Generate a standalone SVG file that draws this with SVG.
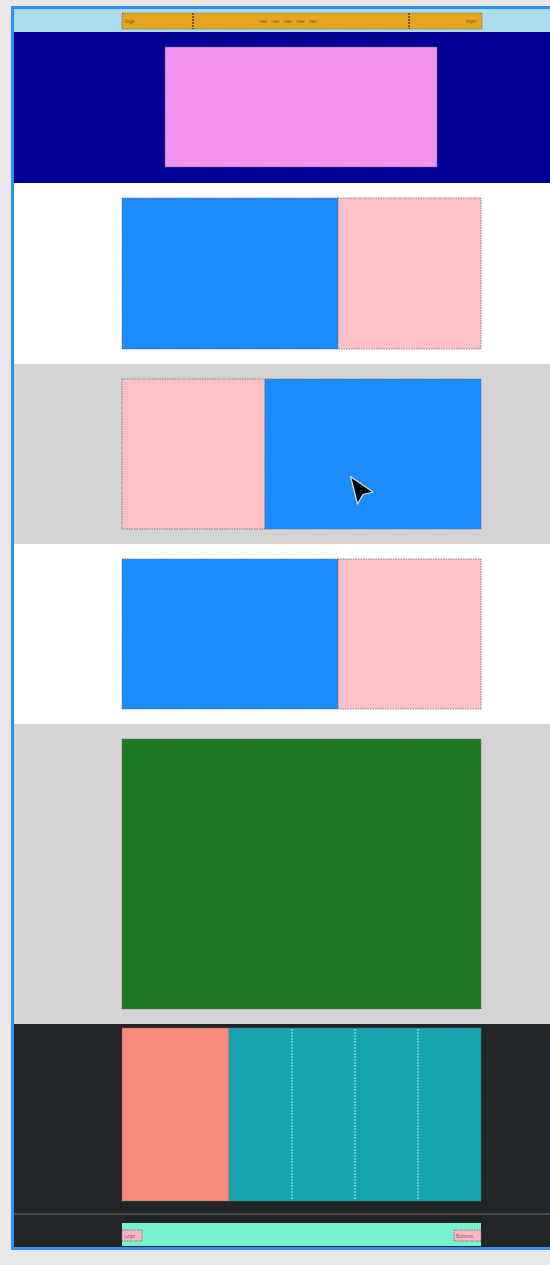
<svg xmlns="http://www.w3.org/2000/svg" width="550" height="1265" viewBox="0 0 550 1265">
<style>
.box{stroke:#6a6a6a;stroke-width:0.8;stroke-dasharray:1.5 1}
.tiny{font-family:"Liberation Sans",Arial,sans-serif;font-size:5px;fill:#7a5a10}
.lbl{font-family:"Liberation Sans",Arial,sans-serif;font-size:5px;fill:#b05060}
.div{stroke:#222;stroke-width:1.2;stroke-dasharray:2 1}
.tdiv{stroke:#9ff0f5;stroke-width:1;stroke-dasharray:2 1}
</style>
<rect x="0" y="0" width="550" height="1265" fill="#e8e8e8"/>
<rect x="12.5" y="7.5" width="545" height="1241" fill="#ffffff" stroke="#2e8ff2" stroke-width="3"/>
<g id="header">
<rect x="14" y="9" width="536" height="23" fill="#acdcec"/>
<rect class="box" x="122" y="13" width="360" height="16" fill="#e6a620"/>
<line class="div" x1="193" y1="13" x2="193" y2="29"/>
<line class="div" x1="409" y1="13" x2="409" y2="29"/>
<text class="tiny" x="125" y="22.5">logo</text>
<text class="tiny" x="259" y="22.5" word-spacing="3">nav nav nav nav nav</text>
<text class="tiny" x="466" y="22.5">login</text>
</g>
<g id="hero">
<rect x="14" y="32" width="536" height="151" fill="#000096"/>
<rect class="box" x="165" y="47" width="272" height="120" fill="#f492ef"/>
</g>
<g id="row1">
<rect x="14" y="183" width="536" height="181" fill="#ffffff"/>
<rect class="box" x="122" y="198" width="216" height="151" fill="#1a8cff"/>
<rect class="box" x="338" y="198" width="143" height="151" fill="#ffc1c9"/>
</g>
<g id="row2">
<rect x="14" y="364" width="536" height="180" fill="#d4d4d4"/>
<rect class="box" x="122" y="379" width="143" height="150" fill="#ffc1c9"/>
<rect class="box" x="265" y="379" width="216" height="150" fill="#1a8cff"/>
</g>
<g id="row3">
<rect x="14" y="544" width="536" height="180" fill="#ffffff"/>
<rect class="box" x="122" y="559" width="216" height="150" fill="#1a8cff"/>
<rect class="box" x="338" y="559" width="143" height="150" fill="#ffc1c9"/>
</g>
<g id="feature">
<rect x="14" y="724" width="536" height="300" fill="#d4d4d4"/>
<rect class="box" x="122" y="739" width="359" height="270" fill="#1e7a22"/>
</g>
<g id="grid">
<rect x="14" y="1024" width="536" height="189" fill="#222528"/>
<rect class="box" x="122" y="1028" width="107" height="173" fill="#fa8a7a"/>
<rect class="box" x="229" y="1028" width="252" height="173" fill="#17a4ae"/>
<line class="tdiv" x1="292" y1="1029" x2="292" y2="1200"/>
<line class="tdiv" x1="355" y1="1029" x2="355" y2="1200"/>
<line class="tdiv" x1="418" y1="1029" x2="418" y2="1200"/>
</g>
<g id="footer">
<rect x="14" y="1213" width="536" height="34" fill="#222528"/>
<line x1="14" y1="1214" x2="550" y2="1214" stroke="#5a5a5a" stroke-width="1.5"/>
<rect x="122" y="1223" width="359" height="23" fill="#78f2cf"/>
<rect class="box" x="122" y="1230" width="20" height="11" fill="#f8b8c4"/>
<rect class="box" x="454" y="1230" width="27" height="11" fill="#f8b8c4"/>
<text class="lbl" x="124" y="1237.5">Logo</text>
<text class="lbl" x="456" y="1237.5">Buttons</text>
</g>
<g id="cursor">
<path d="M350.5,476.5 L373,492 L363,494.5 L357.5,504 Z" fill="#000" stroke="#ddd" stroke-width="1.2" stroke-linejoin="round"/>
</g>
</svg>
